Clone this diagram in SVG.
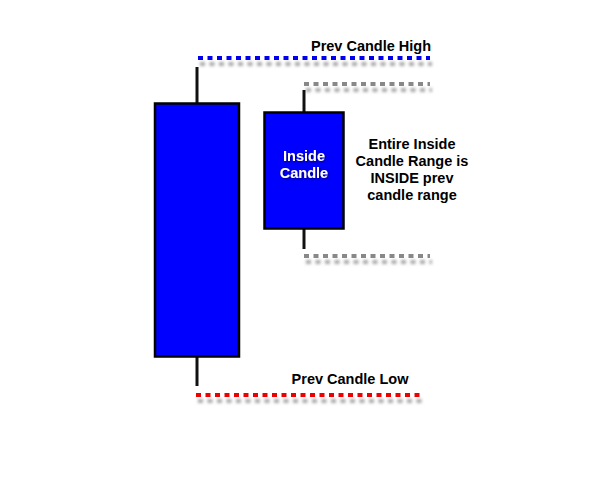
<svg xmlns="http://www.w3.org/2000/svg" width="600" height="500" viewBox="0 0 600 500">
<defs>
<filter id="sh" filterUnits="userSpaceOnUse" x="0" y="0" width="600" height="500">
<feGaussianBlur in="SourceAlpha" stdDeviation="1.6" result="b"/>
<feOffset in="b" dx="2" dy="6" result="o"/>
<feFlood flood-color="#8a8a8a" flood-opacity="0.75"/>
<feComposite in2="o" operator="in" result="s"/>
<feMerge><feMergeNode in="s"/><feMergeNode in="SourceGraphic"/></feMerge>
</filter>
<filter id="tsh" x="-20%" y="-50%" width="140%" height="200%">
<feGaussianBlur in="SourceAlpha" stdDeviation="1" result="b"/>
<feOffset in="b" dx="1" dy="1" result="o"/>
<feFlood flood-color="#000033" flood-opacity="0.7"/>
<feComposite in2="o" operator="in" result="s"/>
<feMerge><feMergeNode in="s"/><feMergeNode in="SourceGraphic"/></feMerge>
</filter>
</defs>
<style>
.dot{fill:none;stroke-width:4;stroke-dasharray:5 4.5}
.wick{stroke:#111;stroke-width:3}
.body{fill:#0000ff;stroke:#000;stroke-width:2.5}
.lbl{font-family:"Liberation Sans",Arial,sans-serif;font-weight:bold;font-size:14.5px;fill:#000}
.wl{font-family:"Liberation Sans",Arial,sans-serif;font-weight:bold;font-size:14.5px;fill:#fff}
</style>
<rect width="600" height="500" fill="#fff"/>
<g id="connectors">
<line class="dot" x1="198" y1="58" x2="430" y2="58" stroke="#0000ee" filter="url(#sh)"/>
<line class="dot" x1="304" y1="84" x2="430" y2="84" stroke="#888" filter="url(#sh)"/>
<line class="dot" x1="304" y1="256" x2="430" y2="256" stroke="#888" filter="url(#sh)"/>
<line class="dot" x1="196" y1="395" x2="421" y2="395" stroke="#ee0000" filter="url(#sh)"/>
</g>
<g id="prev-candle">
<line class="wick" x1="197" y1="67" x2="197" y2="104"/>
<line class="wick" x1="197" y1="356" x2="197" y2="386"/>
<rect class="body" x="155" y="103.5" width="84" height="253"/>
</g>
<g id="inside-candle">
<line class="wick" x1="304" y1="90" x2="304" y2="113"/>
<line class="wick" x1="304" y1="228" x2="304" y2="249"/>
<rect class="body" x="264.5" y="112.5" width="79" height="116"/>
<text class="wl" x="304" y="161" text-anchor="middle" filter="url(#tsh)">Inside</text>
<text class="wl" x="304" y="178" text-anchor="middle" filter="url(#tsh)">Candle</text>
</g>
<g id="label-high"><text class="lbl" x="371" y="51" text-anchor="middle">Prev Candle High</text></g>
<g id="label-low"><text class="lbl" x="350" y="384" text-anchor="middle">Prev Candle Low</text></g>
<g id="label-inside">
<text class="lbl" x="412" y="149" text-anchor="middle">Entire Inside</text>
<text class="lbl" x="412" y="166" text-anchor="middle">Candle Range is</text>
<text class="lbl" x="412" y="183" text-anchor="middle">INSIDE prev</text>
<text class="lbl" x="412" y="200" text-anchor="middle">candle range</text>
</g>
</svg>
